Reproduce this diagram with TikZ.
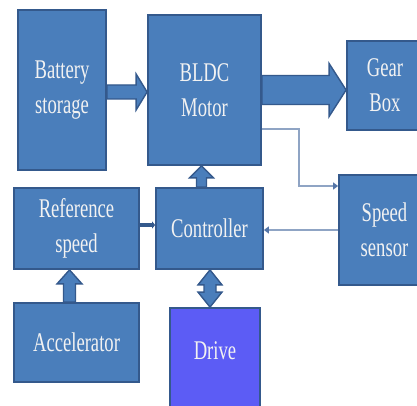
\documentclass[tikz,border=0pt]{standalone}
\usepackage{fontspec}
\setmainfont[FakeStretch=0.69]{Liberation Serif}
\usepackage{tikz}
\usetikzlibrary{arrows.meta, calc}
\definecolor{mBlue}{HTML}{4A7EBB}
\definecolor{mEdge}{HTML}{34598C}
\definecolor{mDrive}{HTML}{5C5CF5}
\definecolor{mLine}{HTML}{8FA4C4}
\definecolor{mTip}{HTML}{5576A8}
\newcommand{\fatright}[5]{%
  \filldraw[fatarrow] let \p1=(#1), \p2=(#2) in
    (\x1,\y1+#3pt) -- (\x2-#5pt,\y1+#3pt) -- (\x2-#5pt,\y1+#4pt) -- (\x2,\y1)
    -- (\x2-#5pt,\y1-#4pt) -- (\x2-#5pt,\y1-#3pt) -- (\x1,\y1-#3pt) -- cycle;}
\newcommand{\fatup}[5]{%
  \filldraw[fatarrow] let \p1=(#1), \p2=(#2) in
    (\x1-#3pt,\y1) -- (\x1-#3pt,\y2-#5pt) -- (\x1-#4pt,\y2-#5pt) -- (\x1,\y2)
    -- (\x1+#4pt,\y2-#5pt) -- (\x1+#3pt,\y2-#5pt) -- (\x1+#3pt,\y1) -- cycle;}
\newcommand{\fatupdown}[5]{%
  \filldraw[fatarrow] let \p1=(#1), \p2=(#2) in
    (\x1,\y1) -- (\x1+#4pt,\y1-#5pt) -- (\x1+#3pt,\y1-#5pt) -- (\x1+#3pt,\y2+#5pt)
    -- (\x1+#4pt,\y2+#5pt) -- (\x1,\y2) -- (\x1-#4pt,\y2+#5pt) -- (\x1-#3pt,\y2+#5pt)
    -- (\x1-#3pt,\y1-#5pt) -- (\x1-#4pt,\y1-#5pt) -- cycle;}

\begin{document}
\begin{tikzpicture}[x=1pt, y=-1pt,
    box/.style={draw=mEdge, fill=mBlue, line width=1.8pt, text=white!95!black,
      font=\fontsize{27}{35}\selectfont, align=center, inner sep=0pt},
    fatarrow/.style={fill=mBlue, draw=mEdge, line width=1.4pt},
    sig/.style={draw=mLine, line width=1.3pt, -{Triangle[length=5pt, width=7pt, fill=mTip, color=mTip]}},
    link/.style={draw=mEdge, line width=4pt, -{Triangle[length=3pt, width=7pt]}}]
    \useasboundingbox (0,0) rectangle (417,406);
    \fill[white] (0,0) rectangle (417,406);
    \clip (0,0) rectangle (417,406);
    \node[box, minimum width=88pt, minimum height=160pt] (bat) at (62,90) {Battery\\storage};
    \node[box, minimum width=113pt, minimum height=150pt] (bldc) at (204.5,90) {BLDC\\Motor};
    \node[box, minimum width=76pt, minimum height=89pt] (gear) at (385,85.5) {Gear\\Box};
    \node[box, minimum width=91pt, minimum height=110pt] (speed) at (384.5,230) {Speed\\sensor};
    \node[box, minimum width=107pt, minimum height=81pt] (ctrl) at (209.5,228.5) {Controller};
    \node[box, minimum width=125pt, minimum height=81pt] (ref) at (76.5,228.5) {Reference\\speed};
    \node[box, minimum width=125pt, minimum height=79pt] (acc) at (76.5,342.5) {Accelerator};
    \node[box, fill=mDrive, minimum width=90pt, minimum height=102pt,
      label={[text=white!95!black, font=\fontsize{27}{35}\selectfont, yshift=8pt]center:Drive}] (drive) at (215,359) {};
    \fatright{$(bat.east)+(0,2)$}{bldc.west}{7}{18}{11}
    \fatright{bldc.east}{gear.west}{14.5}{26.5}{17}
    \fatup{$(ctrl.north)+(-8,0)$}{bldc.south}{5}{12}{12}
    \fatup{$(acc.north)+(-7,0)$}{ref.south}{6}{12.5}{14}
    \fatupdown{$(ctrl.south)+(0.5,0)$}{drive.north}{6}{12}{15}
    \draw[sig] ($(bldc.east)+(0,39)$) -| ($(speed.west)+(-39,-44)$) -- ($(speed.west)+(0,-44)$);
    \draw[sig] (speed.west) -- (speed.west -| ctrl.east);
    \draw[link] ($(ref.east)+(0,-3.5)$) -- ($(ctrl.west)+(0,-3.5)$);
  \end{tikzpicture}
\end{document}
